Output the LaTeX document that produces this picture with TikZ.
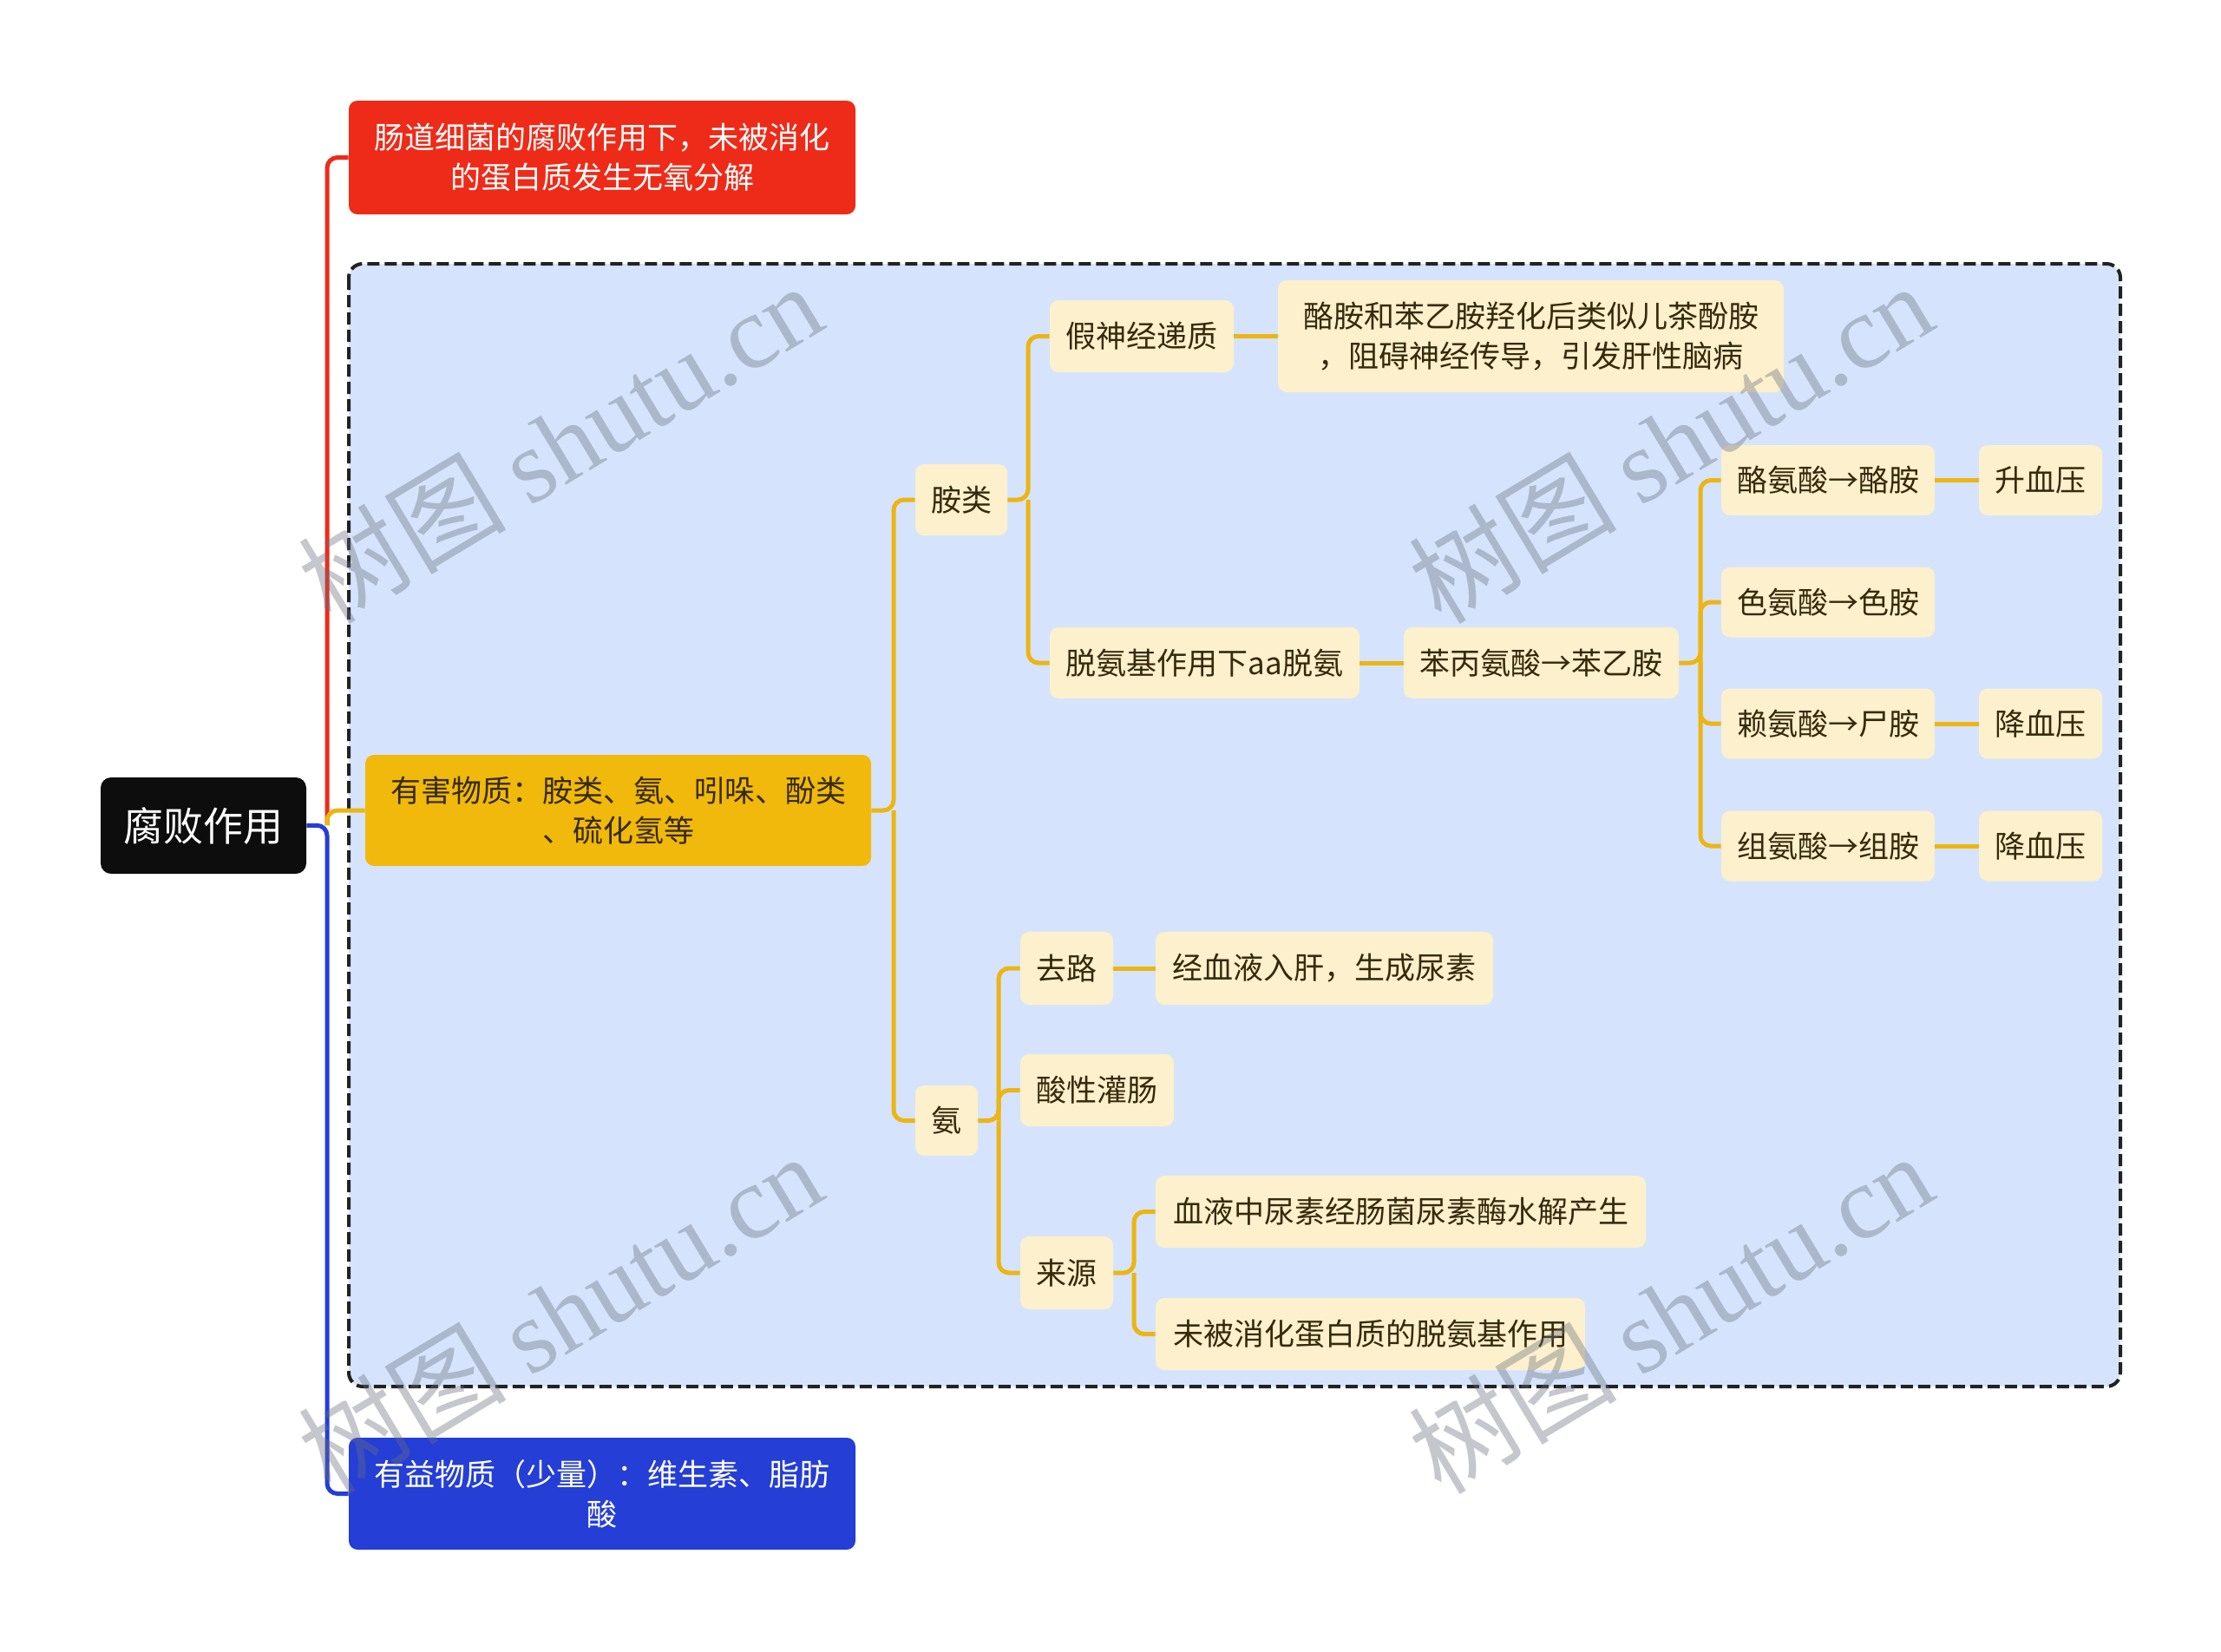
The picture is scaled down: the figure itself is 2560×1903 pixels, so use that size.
\documentclass[tikz,border=0pt]{standalone}
\usepackage{fontspec}
\setmainfont{Noto Sans CJK SC}
\newfontfamily\wmlatin{Liberation Serif}
\usetikzlibrary{calc}
\definecolor{redc}{RGB}{238,43,24}
\definecolor{bluec}{RGB}{36,62,214}
\definecolor{yellowc}{RGB}{240,185,11}
\definecolor{linec}{RGB}{237,181,18}
\definecolor{boxbg}{RGB}{213,228,252}
\definecolor{leafc}{RGB}{253,240,204}
\definecolor{rootc}{RGB}{13,13,13}
\definecolor{txtc}{RGB}{54,42,12}
\definecolor{wmc}{RGB}{105,110,125}
\tikzset{
  box/.style={inner sep=0pt, align=center, rounded corners=5pt},
  leaf/.style={box, fill=leafc, text=txtc, font=\fontsize{17.5}{23}\selectfont},
  mainbox/.style={box, font=\fontsize{17.5}{23}\selectfont},
  conn/.style={line width=2.5pt, draw=linec, rounded corners=6pt},
  wm/.style={text=wmc, text opacity=0.38, font=\fontsize{60}{60}\selectfont, rotate=31, inner sep=0pt}
}
\begin{document}
\begin{tikzpicture}[x=0.5pt,y=-0.5pt]
\useasboundingbox (0,0) rectangle (2560,1903);
\fill[white] (0,0) rectangle (2560,1903);
% dashed container
\draw[fill=boxbg, draw={rgb,255:red,34;green,34;blue,34}, line width=2pt, dash pattern=on 7pt off 3pt, rounded corners=8pt] (402,304) rectangle (2444,1598);

% main nodes
\node[box, fill=rootc, text=white, font=\fontsize{23}{28}\selectfont, minimum width=118.5pt, minimum height=55.5pt, rounded corners=6pt] (root) at (234.5,951.5) {腐败作用};
\node[mainbox, fill=redc, text=white, minimum width=292pt, minimum height=65.5pt] (red) at (694,181.5) {肠道细菌的腐败作用下，未被消化\\的蛋白质发生无氧分解};
\node[mainbox, fill=yellowc, text=txtc, minimum width=291.5pt, minimum height=64pt] (harm) at (712.5,934) {有害物质：胺类、氨、吲哚、酚类\\、硫化氢等};
\node[mainbox, fill=bluec, text=white, minimum width=292pt, minimum height=64.5pt] (ben) at (694,1721.5) {有益物质（少量）：维生素、脂肪\\酸};

% level 2
\node[leaf, minimum width=53pt, minimum height=41pt] (amine) at (1108,576) {胺类};
\node[leaf, minimum width=36pt, minimum height=40.5pt] (ammo) at (1091,1291.5) {氨};

% amine branch
\node[leaf, minimum width=106pt, minimum height=41.5pt] (fake) at (1316,387.5) {假神经递质};
\node[leaf, minimum width=291.5pt, minimum height=64.5pt] (fakedesc) at (1764.5,387.5) {酪胺和苯乙胺羟化后类似儿茶酚胺\\，阻碍神经传导，引发肝性脑病};
\node[leaf, minimum width=178.5pt, minimum height=41pt] (deam) at (1388.5,764) {脱氨基作用下aa脱氨};
\node[leaf, minimum width=158.5pt, minimum height=41pt] (phe) at (1776.5,764) {苯丙氨酸→苯乙胺};
\node[leaf, minimum width=123pt, minimum height=40.5pt] (tyr) at (2107,553.5) {酪氨酸→酪胺};
\node[leaf, minimum width=123pt, minimum height=40.5pt] (trp) at (2107,694) {色氨酸→色胺};
\node[leaf, minimum width=123pt, minimum height=40.5pt] (lys) at (2107,834) {赖氨酸→尸胺};
\node[leaf, minimum width=123pt, minimum height=40.5pt] (his) at (2107,975) {组氨酸→组胺};
\node[leaf, minimum width=71pt, minimum height=40.5pt] (up) at (2352,553.5) {升血压};
\node[leaf, minimum width=71pt, minimum height=40.5pt] (down1) at (2352,834) {降血压};
\node[leaf, minimum width=71pt, minimum height=40.5pt] (down2) at (2352,975) {降血压};

% ammonia branch
\node[leaf, minimum width=53.5pt, minimum height=42pt] (go) at (1229.5,1116) {去路};
\node[leaf, minimum width=194.5pt, minimum height=42pt] (godesc) at (1526.5,1116) {经血液入肝，生成尿素};
\node[leaf, minimum width=88.5pt, minimum height=41.5pt] (acid) at (1264.5,1256.5) {酸性灌肠};
\node[leaf, minimum width=53.5pt, minimum height=42pt] (src) at (1229.5,1467) {来源};
\node[leaf, minimum width=282.5pt, minimum height=41.5pt] (src1) at (1614.5,1396.5) {血液中尿素经肠菌尿素酶水解产生};
\node[leaf, minimum width=247.5pt, minimum height=41.5pt] (src2) at (1579.5,1537.5) {未被消化蛋白质的脱氨基作用};

% root connectors
\draw[conn, draw=redc] (377,951) |- (red.west);
\draw[conn, draw=bluec] (root.east) -- (377,951) |- (ben.west);
\draw[conn, draw=linec] (377,951) |- (harm.west);

% internal connectors
\draw[conn] (harm.east) -- (1030,934) |- (amine.west);
\draw[conn] (1030,934) |- (ammo.west);
\draw[conn] (amine.east) -- (1185,576) |- (fake.west);
\draw[conn] (1185,576) |- (deam.west);
\draw[conn] (fake.east) -- (fakedesc.west);
\draw[conn] (deam.east) -- (phe.west);
\draw[conn] (phe.east) -- (1960,764) |- (tyr.west);
\draw[conn] (1960,764) |- (trp.west);
\draw[conn] (1960,764) |- (lys.west);
\draw[conn] (1960,764) |- (his.west);
\draw[conn] (tyr.east) -- (up.west);
\draw[conn] (lys.east) -- (down1.west);
\draw[conn] (his.east) -- (down2.west);
\draw[conn] (ammo.east) -- (1151,1291.5) |- (go.west);
\draw[conn] (1151,1291.5) |- (acid.west);
\draw[conn] (1151,1291.5) |- (src.west);
\draw[conn] (go.east) -- (godesc.west);
\draw[conn] (src.east) -- (1307,1467) |- (src1.west);
\draw[conn] (1307,1467) |- (src2.west);

% watermarks
\node[wm] (wm1) at (645,510) {树图 {\wmlatin shutu.cn}};
\node[wm] (wm2) at (1925,510) {树图 {\wmlatin shutu.cn}};
\node[wm] (wm3) at (645,1513) {树图 {\wmlatin shutu.cn}};
\node[wm] (wm4) at (1925,1513) {树图 {\wmlatin shutu.cn}};
\end{tikzpicture}
\end{document}
